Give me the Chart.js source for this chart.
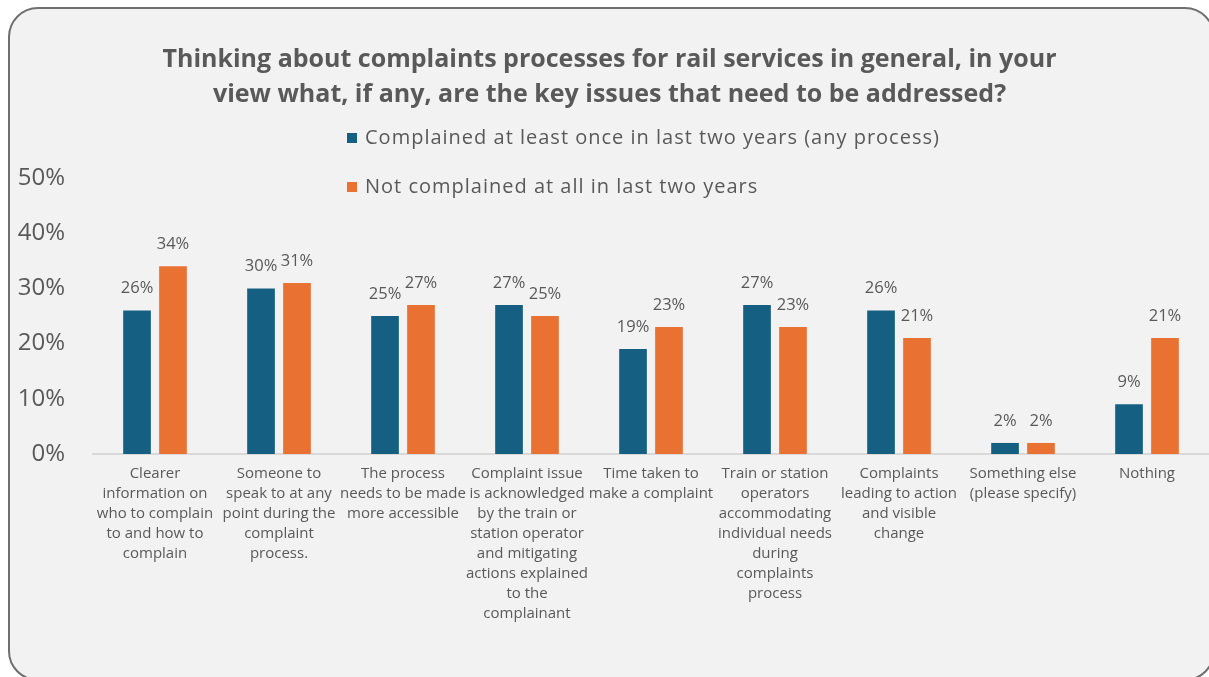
<!DOCTYPE html>
<html>
<head>
<meta charset="utf-8">
<script src="https://cdn.jsdelivr.net/npm/chart.js@4/dist/chart.umd.min.js"></script>
<style>
  html, body { margin: 0; padding: 0; background: #ffffff; overflow: hidden; }
  #frame {
    position: absolute; left: 8px; top: 7px; width: 1207px; height: 674px;
    box-sizing: border-box; border: 2px solid #6f6f6f; border-radius: 30px;
    background: #f2f2f2;
  }
  #wrap { position: absolute; left: 0; top: 0; width: 1209px; height: 677px; }
</style>
</head>
<body>
<div id="frame"></div>
<div id="wrap"><canvas id="chart" width="1209" height="677"></canvas></div>
<script>
const FONT = "'Open Sans', 'Noto Sans', sans-serif";
const TEXT = '#595959';

const titleLines = [
  'Thinking about complaints processes for rail services in general, in your',
  'view what, if any, are the key issues that need to be addressed?'
];

const categories = [
  ['Clearer', 'information on', 'who to complain', 'to and how to', 'complain'],
  ['Someone to', 'speak to at any', 'point during the', 'complaint', 'process.'],
  ['The process', 'needs to be made', 'more accessible'],
  ['Complaint issue', 'is acknowledged', 'by the train or', 'station operator', 'and mitigating', 'actions explained', 'to the', 'complainant'],
  ['Time taken to', 'make a complaint'],
  ['Train or station', 'operators', 'accommodating', 'individual needs', 'during', 'complaints', 'process'],
  ['Complaints', 'leading to action', 'and visible', 'change'],
  ['Something else', '(please specify)'],
  ['Nothing']
];

const seriesNames = [
  'Complained at least once in last two years (any process)',
  'Not complained at all in last two years'
];
const complainedValues    = [26, 30, 25, 27, 19, 27, 26, 2, 9];
const notComplainedValues = [34, 31, 27, 25, 23, 23, 21, 2, 21];
const seriesColors = ['#156082', '#E97132'];
const yTicks = [0, 10, 20, 30, 40, 50];

// value labels above each bar
const barLabels = {
  id: 'barLabels',
  afterDatasetsDraw(chart) {
    const ctx = chart.ctx;
    ctx.save();
    ctx.font = '16.5px ' + FONT;
    ctx.fillStyle = TEXT;
    ctx.textAlign = 'center';
    ctx.textBaseline = 'middle';
    chart.data.datasets.forEach((ds, di) => {
      chart.getDatasetMeta(di).data.forEach((bar, i) => {
        ctx.fillText(ds.data[i] + '%', bar.x, bar.y - 22);
      });
    });
    ctx.restore();
  }
};

// stacked legend under the title
const stackedLegend = {
  id: 'stackedLegend',
  afterDraw(chart) {
    const ctx = chart.ctx;
    ctx.save();
    ctx.font = '20px ' + FONT;
    if ('letterSpacing' in ctx) ctx.letterSpacing = '1px';
    ctx.textBaseline = 'middle';
    ctx.textAlign = 'left';
    const left = 347, top = 138, rowGap = 49;
    chart.data.datasets.forEach((ds, i) => {
      const y = top + i * rowGap;
      ctx.fillStyle = ds.backgroundColor;
      ctx.fillRect(left, y - 5, 10, 10);
      ctx.fillStyle = TEXT;
      ctx.fillText(ds.label, left + 18, y);
    });
    ctx.restore();
  }
};

new Chart(document.getElementById('chart'), {
  type: 'bar',
  data: {
    labels: categories,
    datasets: [
      { label: seriesNames[0], data: complainedValues, backgroundColor: seriesColors[0] },
      { label: seriesNames[1], data: notComplainedValues, backgroundColor: seriesColors[1] }
    ]
  },
  options: {
    responsive: false,
    animation: false,
    devicePixelRatio: 1,
    layout: { padding: { left: 10, right: 0, top: 0, bottom: 43 } },
    datasets: { bar: { categoryPercentage: 0.58, barPercentage: 0.77 } },
    plugins: {
      legend: { display: false },
      tooltip: { enabled: false },
      title: {
        display: true,
        text: titleLines,
        color: TEXT,
        font: { family: FONT, size: 25, weight: 'bold', lineHeight: 1.4 },
        padding: { top: 42, bottom: 66 }
      }
    },
    scales: {
      x: {
        grid: { display: false, drawTicks: false },
        border: { display: true, color: '#d9d9d9', width: 2 },
        ticks: {
          color: TEXT, maxRotation: 0, autoSkip: false, padding: 10,
          font: { family: FONT, size: 15, lineHeight: '20px' }
        }
      },
      y: {
        min: 0, max: 50,
        afterBuildTicks(axis) { axis.ticks = yTicks.map(v => ({ value: v })); },
        afterFit(axis) { axis.width = 83; },
        grid: { display: false, drawTicks: false },
        border: { display: false },
        ticks: {
          color: TEXT, padding: 28,
          font: { family: FONT, size: 24 },
          callback: v => v + '%'
        }
      }
    }
  },
  plugins: [barLabels, stackedLegend]
});
</script>
</body>
</html>
